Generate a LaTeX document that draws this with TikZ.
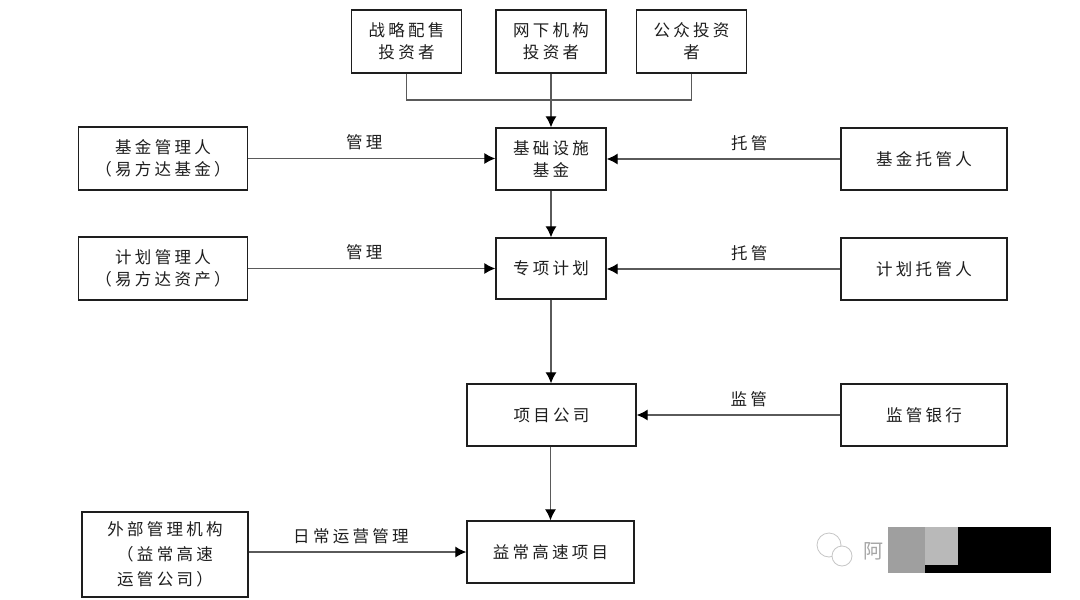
\documentclass[tikz,border=0pt]{standalone}
\usepackage{fontspec}
\usetikzlibrary{arrows.meta}
\newfontfamily\cjk[LetterSpace=20]{Noto Sans CJK SC}
\definecolor{ink}{HTML}{1e1e1e}
\definecolor{linec}{HTML}{5a5a5a}
\begin{document}
\begin{tikzpicture}[x=1pt,y=-1pt,
  box/.style={draw=ink,line width=1.3pt,fill=white,align=center,text=ink,
    font=\cjk\fontsize{16.5}{22}\selectfont,inner sep=0pt},
  lbl/.style={text=ink,font=\cjk\fontsize{16.5}{22}\selectfont,inner sep=0pt},
  conn/.style={draw=linec,line width=1.2pt},
  arr/.style={conn,-{Latex[length=11pt,width=11pt,color=black]}}]
\useasboundingbox[fill=white] (0,0) rectangle (1080,600);
% top investors
\node[box,minimum width=110pt,minimum height=63pt] (s1) at (406.5,41.5) {战略配售\\投资者};
\node[box,minimum width=110pt,minimum height=63pt] (s2) at (551,41.5) {网下机构\\投资者};
\node[box,minimum width=110pt,minimum height=63pt] (s3) at (691.5,41.5) {公众投资\\者};
% centre column
\node[box,minimum width=110pt,minimum height=62pt] (fund) at (551,159) {基础设施\\基金};
\node[box,minimum width=110pt,minimum height=61pt] (plan) at (551,268.5) {专项计划};
\node[box,minimum width=169pt,minimum height=62pt] (co) at (551.5,415) {项目公司};
\node[box,minimum width=167pt,minimum height=62pt] (proj) at (550.5,552) {益常高速项目};
% left column
\node[box,minimum width=169pt,minimum height=63pt] (m1) at (163,158.5) {基金管理人\\（易方达基金）};
\node[box,minimum width=169pt,minimum height=63pt] (m2) at (163,268.5) {计划管理人\\（易方达资产）};
\node[box,minimum width=166pt,minimum height=85pt,font=\cjk\fontsize{16.5}{25}\selectfont] (ext) at (165,554.5) {外部管理机构\\（益常高速\\运管公司）};
% right column
\node[box,minimum width=166pt,minimum height=62pt] (c1) at (924,159) {基金托管人};
\node[box,minimum width=166pt,minimum height=62pt] (c2) at (924,269) {计划托管人};
\node[box,minimum width=166pt,minimum height=62pt] (bank) at (924,415) {监管银行};
% connectors
\coordinate (j) at (551,100);
\draw[conn] (s1.south) |- (j);
\draw[conn] (s3.south) |- (j);
\draw[arr] (s2.south) -- (fund.north);
\draw[arr] (fund.south) -- (plan.north);
\draw[arr] (plan.south) -- (plan.south |- co.north);
\draw[arr] (co.south -| proj.north) -- (proj.north);
\draw[arr] (m1.east) -- (m1.east -| fund.west) node[lbl,pos=0.47,above=8pt] {管理};
\draw[arr] (m2.east) -- (m2.east -| plan.west) node[lbl,pos=0.47,above=8pt] {管理};
\draw[arr] (c1.west) -- (c1.west -| fund.east) node[lbl,pos=0.39,above=8pt] {托管};
\draw[arr] (c2.west) -- (c2.west -| plan.east) node[lbl,pos=0.39,above=8pt] {托管};
\draw[arr] (bank.west) -- (co.east) node[lbl,pos=0.45,above=8pt] {监管};
\draw[arr] (ext.east |- proj.west) -- (proj.west) node[lbl,pos=0.47,above=8pt] {日常运营管理};
% watermark
\node[font=\cjk\fontsize{20}{20}\selectfont,text=gray!70,inner sep=0pt] (wm) at (873,551) {阿};
\draw[gray!45,line width=0.8pt] (829,545) circle[radius=12pt];
\draw[gray!45,line width=0.8pt,fill=white] (842,556) circle[radius=10pt];
\fill[gray!75] (888,527) rectangle (925,573);
\fill[gray!55] (925,527) rectangle (958,573);
\fill[black] (925,565) rectangle (958,573);
\fill[black] (958,527) rectangle (1051,573);
\end{tikzpicture}
\end{document}
